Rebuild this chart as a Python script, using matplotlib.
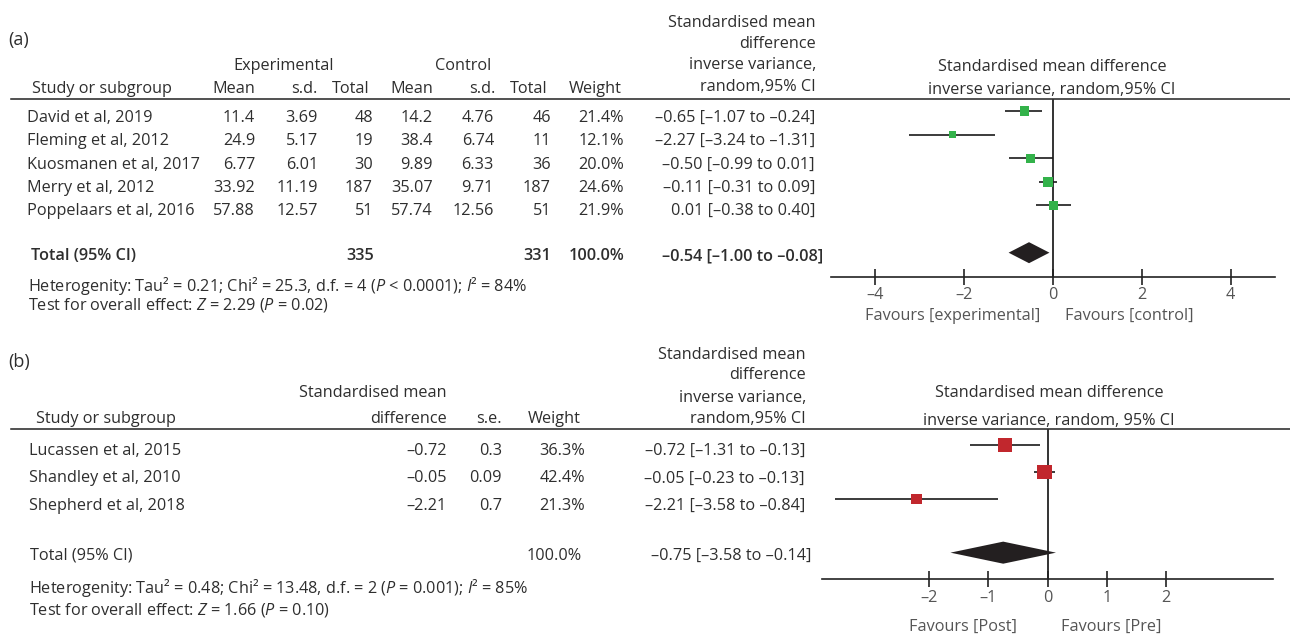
import matplotlib
matplotlib.use("Agg")
import matplotlib.pyplot as plt
import numpy as np

plt.rcParams['font.family'] = ['Open Sans', 'DejaVu Sans']
plt.rcParams['mathtext.fontset'] = 'custom'
plt.rcParams['mathtext.rm'] = 'Open Sans'
plt.rcParams['mathtext.it'] = 'Open Sans:italic'

# ---------------- data: panel (a) ----------------
studies_a = ["David et al, 2019", "Fleming et al, 2012", "Kuosmanen et al, 2017",
             "Merry et al, 2012", "Poppelaars et al, 2016"]
exp_mean = [11.4, 24.9, 6.77, 33.92, 57.88]
exp_sd = [3.69, 5.17, 6.01, 11.19, 12.57]
exp_n = [48, 19, 30, 187, 51]
ctl_mean = [14.2, 38.4, 9.89, 35.07, 57.74]
ctl_sd = [4.76, 6.74, 6.33, 9.71, 12.56]
ctl_n = [46, 11, 36, 187, 51]
weight_a = [21.4, 12.1, 20.0, 24.6, 21.9]
smd_a = [-0.65, -2.27, -0.50, -0.11, 0.01]
lo_a = [-1.07, -3.24, -0.99, -0.31, -0.38]
hi_a = [-0.24, -1.31, 0.01, 0.09, 0.40]
total_exp_a = 335
total_ctl_a = 331
total_est_a, total_lo_a, total_hi_a = -0.54, -1.00, -0.08
het_a = "Heterogenity: Tau² = 0.21; Chi² = 25.3, d.f. = 4 ($\\mathit{P}$ < 0.0001); $\\mathit{I}$² = 84%"
test_a = "Test for overall effect: $\\mathit{Z}$ = 2.29 ($\\mathit{P}$ = 0.02)"
ticks_a = [-4, -2, 0, 2, 4]

# ---------------- data: panel (b) ----------------
studies_b = ["Lucassen et al, 2015", "Shandley et al, 2010", "Shepherd et al, 2018"]
smd_b = [-0.72, -0.05, -2.21]
se_b = [0.3, 0.09, 0.7]
weight_b = [36.3, 42.4, 21.3]
lo_b = [-1.31, -0.23, -3.58]
hi_b = [-0.13, 0.13, -0.84]          # drawn interval
ci_labels_b = ["–0.72 [–1.31 to –0.13]", "–0.05 [–0.23 to –0.13]", "–2.21 [–3.58 to –0.84]"]
total_est_b, total_lo_b, total_hi_b = -0.75, -1.64, 0.14   # drawn diamond
total_label_b = "–0.75 [–3.58 to –0.14]"
het_b = "Heterogenity: Tau² = 0.48; Chi² = 13.48, d.f. = 2 ($\\mathit{P}$ = 0.001); $\\mathit{I}$² = 85%"
test_b = "Test for overall effect: $\\mathit{Z}$ = 1.66 ($\\mathit{P}$ = 0.10)"
ticks_b = [-2, -1, 0, 1, 2]

# ---------------- styling ----------------
W, H = 1290, 634
FS = 11.7
TC = '#2e2e2e'
GRAY = '#555555'
GREEN = '#33b24a'
RED = '#c1272d'
DARK = '#231f20'


def fmt(v, spec):
    return format(v, spec).replace('-', '–')


def ci_text(e, l, h):
    return f"{fmt(e, '.2f')} [{fmt(l, '.2f')} to {fmt(h, '.2f')}]"


fig = plt.figure(figsize=(W / 100, H / 100), dpi=100)
bg = fig.add_axes([0, 0, 1, 1])
bg.set_xlim(0, W)
bg.set_ylim(H, 0)
bg.axis('off')


def t(x, y, s, ha='left', size=FS, color=TC, **kw):
    bg.text(x, y, s, ha=ha, va='center_baseline', fontsize=size, color=color, **kw)


def px_axes(x0, y0, x1, y1):
    return fig.add_axes([x0 / W, 1 - y1 / H, (x1 - x0) / W, (y1 - y0) / H])


def style_forest(ax, ticks):
    ax.patch.set_alpha(0)
    for s in ('top', 'left', 'right'):
        ax.spines[s].set_visible(False)
    ax.spines['bottom'].set_color('#222222')
    ax.spines['bottom'].set_linewidth(1.2)
    ax.set_yticks([])
    ax.set_xticks(ticks)
    ax.set_xticklabels([fmt(v, 'd') for v in ticks])
    ax.tick_params(axis='x', direction='inout', length=11, width=1.2, colors='#222222',
                   labelcolor=GRAY, labelsize=FS, pad=2)
    ax.axvline(0, color='#333333', lw=1.4, zorder=1)


# ================= panel (a) =================
t(8, 38, "(a)", size=13)
t(284, 64, "Experimental", ha='center')
t(463, 64, "Control", ha='center')
hy = 87
t(32, hy, "Study or subgroup")
for x, s in [(255, "Mean"), (318, "s.d."), (370, "Total"), (433, "Mean"),
             (495, "s.d."), (548, "Total"), (622, "Weight")]:
    t(x, hy, s, ha='right')
for y, s in zip([21, 42, 63, 85], ["Standardised mean", "difference",
                                   "inverse variance,", "random,95% CI"]):
    t(816, y, s, ha='right')
bg.plot([11, 1290], [99, 99], color='#222222', lw=1.1)

for i in range(len(studies_a)):
    y = 116 + 23.3 * i
    t(27, y, studies_a[i])
    t(255, y, fmt(exp_mean[i], 'g'), ha='right')
    t(318, y, fmt(exp_sd[i], 'g'), ha='right')
    t(373, y, str(exp_n[i]), ha='right')
    t(433, y, fmt(ctl_mean[i], 'g'), ha='right')
    t(494, y, fmt(ctl_sd[i], 'g'), ha='right')
    t(551, y, str(ctl_n[i]), ha='right')
    t(624, y, f"{weight_a[i]:.1f}%", ha='right')
    t(815, y, ci_text(smd_a[i], lo_a[i], hi_a[i]), ha='right')

ty = 254
t(31, ty, "Total (95% CI)", fontweight='semibold')
t(374, ty, str(total_exp_a), ha='right', fontweight='semibold')
t(551, ty, str(total_ctl_a), ha='right', fontweight='semibold')
t(624, ty, f"{sum(weight_a):.1f}%", ha='right', fontweight='semibold')
t(823, ty, ci_text(total_est_a, total_lo_a, total_hi_a), ha='right', fontweight='semibold')
t(28, 283, het_a)
t(28, 303, test_a)

t(1052, 65, "Standardised mean difference", ha='center')
t(1052, 88, "inverse variance, random,95% CI", ha='center')
t(1040, 314, "Favours [experimental]", ha='right', color=GRAY)
t(1065, 314, "Favours [control]", ha='left', color=GRAY)

axA = px_axes(831, 99, 1275, 277)
axA.set_xlim(-5, 5)
axA.set_ylim(7.03, -0.51)
style_forest(axA, ticks_a)
rows_a = np.arange(len(smd_a))
axA.hlines(rows_a, lo_a, hi_a, color='#1a1a1a', lw=1.2, zorder=2)
side_a = 2.0 * np.sqrt(weight_a) * 0.72
axA.scatter(smd_a, rows_a, marker='s', s=side_a ** 2, color=GREEN, linewidths=0, zorder=3)
hA = 0.445
axA.fill([total_lo_a, total_est_a, total_hi_a, total_est_a], [6, 6 - hA, 6, 6 + hA],
         color=DARK, lw=0, zorder=3)

# ================= panel (b) =================
t(8, 360, "(b)", size=13)
hyb = 417
t(36, hyb, "Study or subgroup")
t(447, 391, "Standardised mean", ha='right')
t(447, hyb, "difference", ha='right')
t(502, hyb, "s.e.", ha='right')
t(581, hyb, "Weight", ha='right')
for y, s in zip([353, 373, 396, 417], ["Standardised mean", "difference",
                                       "inverse variance,", "random,95% CI"]):
    t(806, y, s, ha='right')
bg.plot([11, 1290], [429, 429], color='#222222', lw=1.1)

for i in range(len(studies_b)):
    y = 449 + 27.5 * i
    t(29, y, studies_b[i])
    t(447, y, fmt(smd_b[i], '.2f'), ha='right')
    t(502, y, fmt(se_b[i], 'g'), ha='right')
    t(585, y, f"{weight_b[i]:.1f}%", ha='right')
    t(805, y, ci_labels_b[i], ha='right')

tyb = 554
t(30, tyb, "Total (95% CI)")
t(582, tyb, f"{sum(weight_b):.1f}%", ha='right')
t(811, tyb, total_label_b, ha='right')
t(29, 585, het_b)
t(29, 608, test_b)

t(1049, 391, "Standardised mean difference", ha='center')
t(1049, 419, "inverse variance, random, 95% CI", ha='center')
t(1017, 625, "Favours [Post]", ha='right', color=GRAY)
t(1061, 625, "Favours [Pre]", ha='left', color=GRAY)

axB = px_axes(822, 429, 1273, 579.3)
axB.set_xlim(-3.806, 3.80)
axB.set_ylim(4.99, -0.595)
style_forest(axB, ticks_b)
rows_b = np.arange(len(smd_b))
axB.hlines(rows_b, lo_b, hi_b, color='#1a1a1a', lw=1.2, zorder=2)
side_b = 2.25 * np.sqrt(weight_b) * 0.72
axB.scatter(smd_b, rows_b, marker='s', s=side_b ** 2, color=RED, linewidths=0, zorder=3)
hB = 0.41
axB.fill([total_lo_b, total_est_b, total_hi_b, total_est_b], [4, 4 - hB, 4, 4 + hB],
         color=DARK, lw=0, zorder=3)

fig.savefig("out.png", dpi=100)
